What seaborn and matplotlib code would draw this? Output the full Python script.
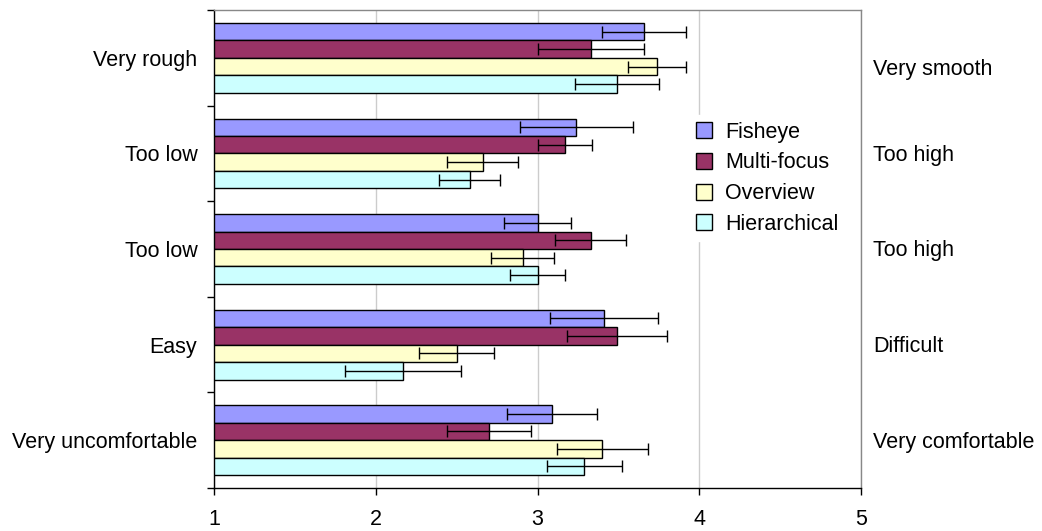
import matplotlib
matplotlib.use('Agg')

import numpy as np
import pandas as pd
import matplotlib.pyplot as plt
import seaborn as sns
from matplotlib.transforms import blended_transform_factory

# =========================================================
# DATA
# =========================================================

questions = ["Q1", "Q2", "Q3", "Q4", "Q5"]
left_labels = ["Very rough", "Too low", "Too low", "Easy", "Very uncomfortable"]
right_labels = ["Very smooth", "Too high", "Too high", "Difficult", "Very comfortable"]

techniques = ["Fisheye", "Multi-focus", "Overview", "Hierarchical"]

fisheye = [3.66, 3.24, 3.00, 3.41, 3.09]
fisheye_err = [0.26, 0.35, 0.21, 0.335, 0.28]

multifocus = [3.33, 3.17, 3.33, 3.49, 2.70]
multifocus_err = [0.33, 0.165, 0.22, 0.31, 0.26]

overview = [3.74, 2.66, 2.91, 2.50, 3.40]
overview_err = [0.18, 0.22, 0.195, 0.23, 0.28]

hierarchical = [3.49, 2.58, 3.00, 2.17, 3.29]
hierarchical_err = [0.26, 0.19, 0.17, 0.36, 0.23]

colors = ["#9999FF", "#993366", "#FFFFCC", "#CCFFFF"]

means = [fisheye, multifocus, overview, hierarchical]
errors = [fisheye_err, multifocus_err, overview_err, hierarchical_err]

df = pd.DataFrame({
    "question": np.tile(questions, len(techniques)),
    "technique": np.repeat(techniques, len(questions)),
    "score": np.concatenate(means),
    "err": np.concatenate(errors),
})

# =========================================================
# PLOT
# =========================================================

sns.set_style("white")
plt.rcParams['font.family'] = ['Liberation Sans', 'DejaVu Sans']
plt.rcParams['text.color'] = 'black'
plt.rcParams['xtick.color'] = 'black'
plt.rcParams['ytick.color'] = 'black'

fig = plt.figure(figsize=(10.42, 5.31), dpi=100)
ax = fig.add_axes([0.2054, 0.081, 0.6209, 0.9])

sns.barplot(
    data=df, x="score", y="question", hue="technique",
    order=questions, hue_order=techniques,
    palette=colors, orient="h", errorbar=None,
    width=0.73, edgecolor="black", linewidth=1.0,
    saturation=1, ax=ax
)

# error bars from the bar containers
for container, errs in zip(ax.containers, errors):
    for bar, e in zip(container.patches, errs):
        yc = bar.get_y() + bar.get_height() / 2
        ax.errorbar(bar.get_width(), yc, xerr=e, fmt="none",
                    ecolor="black", elinewidth=1.0, capsize=4.5, capthick=1.0)

ax.set_xlim(1, 5)
ax.set_ylim(len(questions) - 0.5, -0.5)
ax.set_xticks([1, 2, 3, 4, 5])
ax.set_xlabel("")
ax.set_ylabel("")

ax.grid(axis="x", color="#cccccc", linewidth=1.0)
ax.set_axisbelow(True)

ax.set_yticks(range(len(questions)))
ax.set_yticklabels(left_labels, fontsize=15.5, color="black")
ax.set_yticks(np.arange(-0.5, len(questions)), minor=True)
ax.tick_params(axis="y", which="major", length=0, pad=12)
ax.tick_params(axis="y", which="minor", length=5, width=1, color="black", left=True)
ax.tick_params(axis="x", which="major", length=5, width=1, color="black",
               bottom=True, labelsize=15.5, labelcolor="black", pad=10)

for side in ["left", "bottom"]:
    ax.spines[side].set_color("black")
    ax.spines[side].set_linewidth(1.0)
for side in ["top", "right"]:
    ax.spines[side].set_color("#888888")
    ax.spines[side].set_linewidth(1.0)

# right-hand scale labels
trans = blended_transform_factory(ax.transAxes, ax.transData)
for i, lab in enumerate(right_labels):
    dy = 0.12 if i == 0 else 0.02
    ax.text(1.0185, i + dy, lab, transform=trans, ha="left", va="center",
            fontsize=15.5, color="black")

leg = ax.legend(
    loc="center left", bbox_to_anchor=(0.718, 0.648),
    fontsize=15.5, frameon=True, fancybox=False,
    handlelength=0.75, handleheight=0.75, handletextpad=0.6,
    labelspacing=0.45, borderpad=0.3
)
leg.get_frame().set_edgecolor("white")
leg.get_frame().set_facecolor("white")
leg.get_frame().set_alpha(1)
for t in leg.get_texts():
    t.set_color("black")

fig.savefig("out.png", dpi=100)
